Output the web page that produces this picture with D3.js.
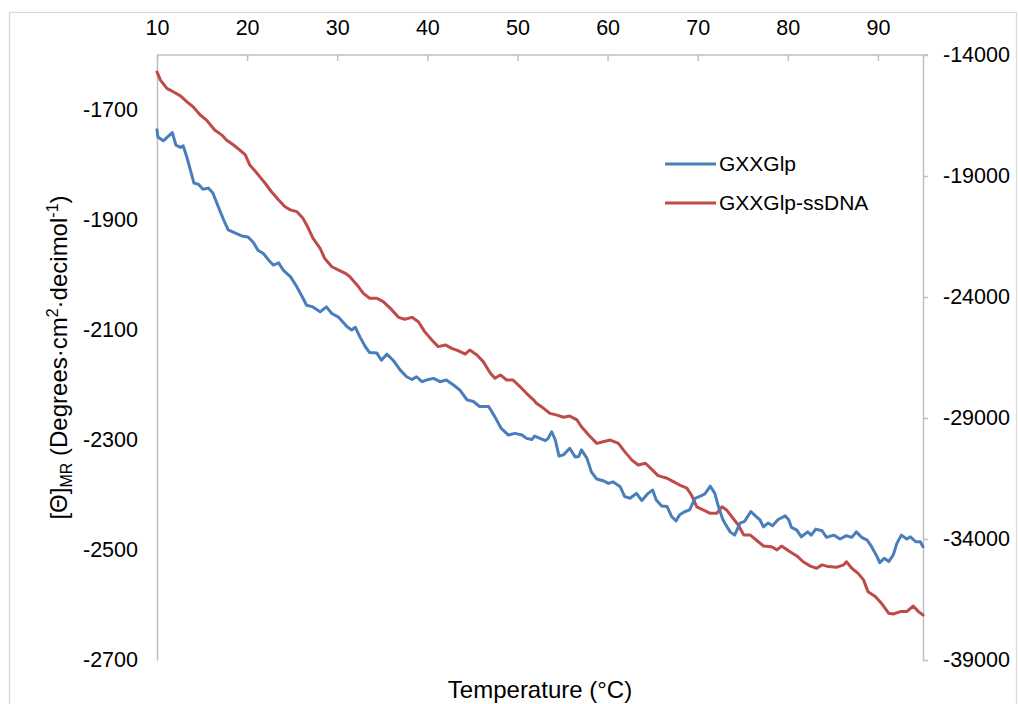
<!DOCTYPE html>
<html>
<head>
<meta charset="utf-8">
<script src="https://cdn.jsdelivr.net/npm/d3@7"></script>
<style>
  html, body { margin: 0; padding: 0; background: #fff; }
  svg { display: block; }
  text { font-family: "Liberation Sans", Arial, sans-serif; fill: #000; }
</style>
</head>
<body>
<svg id="chart" width="1018" height="704"></svg>
<script>
// Temperature (°C) and mean-residue ellipticity for the peptide alone (left axis)
const gxxglp = [
  [10.0,-1736],[10.1,-1749],[10.7,-1756],[11.3,-1747],[11.7,-1741],[12.1,-1764],[12.6,-1768],[12.9,-1765],
  [13.3,-1785],[13.7,-1809],[14.1,-1833],[14.6,-1835],[15.1,-1844],[15.7,-1842],[16.2,-1851],[16.8,-1876],
  [17.4,-1900],[17.9,-1918],[18.7,-1924],[19.4,-1929],[20.1,-1931],[20.7,-1941],[21.2,-1955],[21.8,-1961],
  [22.4,-1973],[22.9,-1982],[23.5,-1978],[24.0,-1991],[24.8,-2003],[25.5,-2021],[26.1,-2039],[26.6,-2055],
  [27.3,-2058],[28.1,-2067],[28.8,-2058],[29.4,-2070],[30.1,-2076],[31.1,-2094],[31.6,-2100],[32.0,-2095],
  [32.5,-2112],[33.1,-2130],[33.6,-2141],[34.4,-2142],[34.9,-2155],[35.5,-2144],[36.2,-2155],[37.0,-2173],
  [37.7,-2185],[38.3,-2190],[38.8,-2185],[39.4,-2194],[39.9,-2191],[40.7,-2188],[41.4,-2194],[42.1,-2191],
  [42.9,-2200],[43.6,-2209],[44.4,-2227],[45.1,-2230],[45.8,-2239],[46.8,-2239],[47.5,-2258],[48.2,-2279],
  [49.0,-2291],[49.7,-2288],[50.5,-2291],[51.0,-2297],[51.6,-2299],[51.9,-2293],[52.5,-2297],[53.1,-2301],
  [53.4,-2297],[53.8,-2285],[54.2,-2300],[54.6,-2329],[55.1,-2327],[55.8,-2315],[56.4,-2331],[56.8,-2330],
  [57.1,-2318],[57.7,-2333],[58.2,-2358],[58.8,-2371],[59.5,-2374],[60.1,-2379],[60.6,-2376],[61.4,-2385],
  [61.9,-2403],[62.5,-2406],[63.2,-2397],[63.8,-2410],[64.5,-2397],[65.0,-2391],[65.4,-2409],[66.0,-2420],
  [66.6,-2421],[67.1,-2439],[67.6,-2447],[68.0,-2436],[68.6,-2430],[69.1,-2427],[69.7,-2406],[70.3,-2402],
  [70.8,-2398],[71.4,-2384],[71.9,-2397],[72.3,-2421],[72.8,-2445],[73.0,-2451],[73.6,-2467],[74.1,-2473],
  [74.7,-2451],[75.2,-2448],[75.9,-2430],[76.4,-2438],[76.9,-2445],[77.3,-2458],[77.8,-2451],[78.3,-2456],
  [78.9,-2445],[79.7,-2438],[80.1,-2445],[80.4,-2459],[81.0,-2464],[81.5,-2476],[82.2,-2467],[82.6,-2473],
  [83.1,-2462],[83.8,-2465],[84.3,-2477],[85.1,-2473],[85.8,-2480],[86.5,-2474],[87.1,-2477],[87.6,-2467],
  [88.2,-2477],[88.8,-2482],[89.3,-2494],[89.9,-2512],[90.2,-2523],[90.7,-2515],[91.2,-2521],[91.7,-2509],
  [92.1,-2488],[92.6,-2473],[93.2,-2480],[93.6,-2476],[94.2,-2485],[94.7,-2485],[95.0,-2494]
];

// Peptide bound to ssDNA (right axis)
const gxxglpSsdna = [
  [10.0,-14700],[10.4,-15050],[11.1,-15380],[11.8,-15520],[12.6,-15690],[13.3,-15930],[14.0,-16140],
  [14.8,-16480],[15.5,-16690],[16.4,-17100],[17.2,-17310],[17.7,-17510],[18.5,-17720],[19.2,-17930],
  [19.8,-18130],[20.3,-18550],[21.1,-18890],[22.0,-19300],[22.7,-19650],[23.5,-19990],[24.2,-20270],
  [24.8,-20400],[25.5,-20470],[26.2,-20750],[26.8,-21160],[27.3,-21570],[28.1,-21990],[28.6,-22400],
  [29.4,-22750],[30.1,-22880],[30.9,-23020],[31.4,-23160],[32.2,-23500],[32.9,-23850],[33.6,-24050],
  [34.4,-24050],[35.1,-24190],[35.9,-24470],[36.8,-24840],[37.5,-24920],[38.3,-24840],[39.0,-25020],
  [39.7,-25430],[40.5,-25780],[41.2,-26050],[42.0,-25980],[42.7,-26120],[43.4,-26220],[44.2,-26360],
  [44.7,-26190],[45.5,-26400],[46.2,-26670],[47.0,-27150],[47.5,-27360],[48.1,-27220],[48.8,-27430],
  [49.5,-27430],[50.3,-27710],[51.0,-27980],[51.8,-28260],[52.1,-28390],[52.9,-28600],[53.6,-28810],
  [54.4,-28880],[55.1,-28970],[55.8,-28920],[56.6,-29080],[57.1,-29360],[57.9,-29700],[58.8,-30050],
  [59.5,-29980],[60.3,-29910],[61.2,-30050],[61.9,-30390],[62.7,-30740],[63.4,-30940],[64.2,-30870],
  [64.9,-31120],[65.6,-31380],[66.6,-31490],[67.3,-31630],[68.0,-31770],[68.8,-31900],[69.3,-32180],
  [69.9,-32670],[70.6,-32800],[71.4,-32940],[72.1,-32940],[72.7,-32670],[73.2,-32800],[73.9,-33140],
  [74.5,-33420],[75.1,-33830],[75.8,-33830],[76.5,-34040],[77.3,-34290],[78.2,-34320],[78.8,-34450],
  [79.3,-34290],[80.2,-34520],[81.0,-34700],[81.7,-34940],[82.5,-35120],[83.2,-35210],[83.8,-35070],
  [84.5,-35140],[85.4,-35170],[86.2,-35070],[86.5,-34940],[87.1,-35210],[87.8,-35420],[88.4,-35690],
  [88.9,-36180],[89.7,-36380],[90.4,-36660],[91.2,-37070],[91.7,-37100],[92.5,-37000],[93.2,-37000],
  [93.9,-36770],[94.5,-37000],[95.0,-37140]
];

const tempTicks = [10, 20, 30, 40, 50, 60, 70, 80, 90];
const leftTicks = [-1700, -1900, -2100, -2300, -2500, -2700];
const rightTicks = [-14000, -19000, -24000, -29000, -34000, -39000];
const seriesNames = ["GXXGlp", "GXXGlp-ssDNA"];
const seriesColors = ["#4a7ebb", "#be4b48"];

const svg = d3.select("#chart");
const plot = { left: 157, right: 923, top: 55, bottom: 660 };
const axisGrey = "#bfbfbf";
const plain = d => String(d); // keep an ASCII hyphen for negatives

// outer chart frame
svg.append("rect")
  .attr("x", 9.5).attr("y", 12.5)
  .attr("width", 1007).attr("height", 700)
  .attr("fill", "#fff").attr("stroke", "#d9d9d9").attr("stroke-width", 1.3);

const x = d3.scaleLinear().domain([10, 95]).range([plot.left, plot.right]);
const yL = d3.scaleLinear().domain([-2700, -1600]).range([plot.bottom, plot.top]);
const yR = d3.scaleLinear().domain([-39000, -14000]).range([plot.bottom, plot.top]);

function styleAxis(g) {
  g.selectAll("path.domain").attr("stroke", axisGrey).attr("stroke-width", 1.5);
  g.selectAll(".tick line").attr("stroke", axisGrey).attr("stroke-width", 1.5);
  g.selectAll(".tick text")
    .style("font-family", '"Liberation Sans", Arial, sans-serif')
    .style("font-size", "21.5px").attr("fill", "#000");
}

// top temperature axis, ticks pointing into the plot
const gx = svg.append("g").attr("transform", `translate(0,${plot.top})`)
  .call(d3.axisTop(x).tickValues(tempTicks).tickSizeInner(-6).tickSizeOuter(0)
    .tickPadding(20).tickFormat(plain));
styleAxis(gx);
gx.select("path.domain").attr("d", `M${plot.left},0H${plot.right + 5}`);

// left axis (no tick marks)
const gl = svg.append("g").attr("transform", `translate(${plot.left},0)`)
  .call(d3.axisLeft(yL).tickValues(leftTicks).tickSizeInner(0).tickSizeOuter(0)
    .tickPadding(19).tickFormat(plain));
styleAxis(gl);

// right axis, short outward ticks
const gr = svg.append("g").attr("transform", `translate(${plot.right},0)`)
  .call(d3.axisRight(yR).tickValues(rightTicks).tickSizeInner(5).tickSizeOuter(0)
    .tickPadding(15).tickFormat(plain));
styleAxis(gr);

// series lines
const lineL = d3.line().x(d => x(d[0])).y(d => yL(d[1]));
const lineR = d3.line().x(d => x(d[0])).y(d => yR(d[1]));

svg.append("path").datum(gxxglpSsdna)
  .attr("d", lineR).attr("fill", "none")
  .attr("stroke", seriesColors[1]).attr("stroke-width", 3)
  .attr("stroke-linejoin", "round").attr("stroke-linecap", "round");

svg.append("path").datum(gxxglp)
  .attr("d", lineL).attr("fill", "none")
  .attr("stroke", seriesColors[0]).attr("stroke-width", 3)
  .attr("stroke-linejoin", "round").attr("stroke-linecap", "round");

// legend
const legend = svg.append("g").attr("transform", "translate(665,164)");
seriesNames.forEach((name, i) => {
  const row = legend.append("g").attr("transform", `translate(0,${i * 39})`);
  row.append("line").attr("x1", 0).attr("x2", 51).attr("y1", 0).attr("y2", 0)
    .attr("stroke", seriesColors[i]).attr("stroke-width", 3);
  row.append("text").attr("x", 54).attr("y", 0).attr("dy", "0.35em")
    .style("font-size", "21px").text(name);
});

// axis titles
svg.append("text")
  .attr("x", (plot.left + plot.right) / 2).attr("y", 698)
  .attr("text-anchor", "middle").style("font-size", "24px")
  .text("Temperature (°C)");

const yt = svg.append("text")
  .attr("transform", `translate(67,${(plot.top + plot.bottom) / 2}) rotate(-90)`)
  .attr("text-anchor", "middle").style("font-size", "24px");
yt.append("tspan").text("[Θ]");
yt.append("tspan").attr("dy", 5).style("font-size", "16px").text("MR");
yt.append("tspan").attr("dy", -5).text(" (Degrees·cm");
yt.append("tspan").attr("dy", -9).style("font-size", "16px").text("2");
yt.append("tspan").attr("dy", 9).text("·decimol");
yt.append("tspan").attr("dy", -9).style("font-size", "16px").text("-1");
yt.append("tspan").attr("dy", 9).text(")");
</script>
</body>
</html>
